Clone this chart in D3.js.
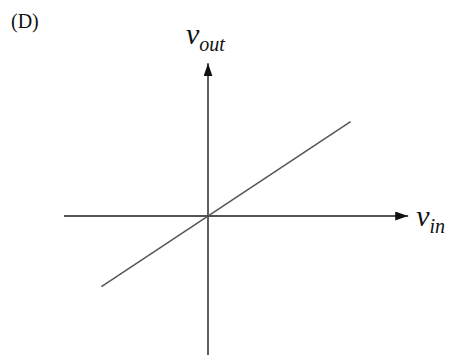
<!DOCTYPE html>
<html>
<head>
<meta charset="utf-8">
<script src="https://cdn.jsdelivr.net/npm/d3@7"></script>
<style>
  html, body { margin: 0; padding: 0; background: #fff; }
  svg { display: block; }
  .lbl { font-family: "Liberation Serif", "Times New Roman", serif; }
</style>
</head>
<body>
<div id="chart"></div>
<script>
(function () {
    "use strict";

    // --- Data ---
    var panelLabel = "(D)";
    var xAxisLabel = ["v", "in"];
    var yAxisLabel = ["v", "out"];
    // axis extents (normalised units, origin at 0)
    var xAxisExtent = [-1.0, 1.39];
    var yAxisExtent = [-0.965, 1.06];
    // transfer line vout = k * vin
    var vin = [-0.74, 0.99];
    var vout = [-0.49, 0.655];

    var width = 451, height = 361;
    var x = d3.scaleLinear().domain([-1, 1]).range([64, 352]);
    var y = d3.scaleLinear().domain([-1, 1]).range([360, 72]);

    var svg = d3.select("#chart").append("svg")
        .attr("width", width)
        .attr("height", height);

    svg.append("defs").append("marker")
        .attr("id", "arrow")
        .attr("viewBox", "0 0 13 9")
        .attr("refX", 13).attr("refY", 4.5)
        .attr("markerWidth", 13).attr("markerHeight", 9)
        .attr("markerUnits", "userSpaceOnUse")
        .attr("orient", "auto")
        .append("path")
        .attr("d", "M0,0 L13,4.5 L0,9 Z")
        .attr("fill", "#111");

    // Axes
    svg.append("line")
        .attr("x1", x(xAxisExtent[0])).attr("y1", y(0))
        .attr("x2", x(xAxisExtent[1])).attr("y2", y(0))
        .attr("stroke", "#1a1a1a").attr("stroke-width", 1.4)
        .attr("marker-end", "url(#arrow)");

    svg.append("line")
        .attr("x1", x(0)).attr("y1", y(yAxisExtent[0]))
        .attr("x2", x(0)).attr("y2", y(yAxisExtent[1]))
        .attr("stroke", "#1a1a1a").attr("stroke-width", 1.4)
        .attr("marker-end", "url(#arrow)");

    // Transfer line
    var pts = vin.map(function (v, i) { return [v, vout[i]]; });
    svg.append("path")
        .datum(pts)
        .attr("fill", "none")
        .attr("stroke", "#555")
        .attr("stroke-width", 1.5)
        .attr("d", d3.line()
            .x(function (d) { return x(d[0]); })
            .y(function (d) { return y(d[1]); }));

    // Labels
    svg.append("text")
        .attr("class", "lbl")
        .attr("x", 11).attr("y", 28)
        .attr("font-size", 20)
        .attr("fill", "#111")
        .text(panelLabel);

    function subLabel(px, py, parts) {
        var t = svg.append("text")
            .attr("class", "lbl")
            .attr("x", px).attr("y", py)
            .attr("font-style", "italic")
            .attr("fill", "#111");
        t.append("tspan").attr("font-size", 30).text(parts[0]);
        t.append("tspan").attr("font-size", 20).attr("dy", 7).text(parts[1]);
    }

    subLabel(x(xAxisExtent[1]) + 8, y(0) + 10, xAxisLabel);
    subLabel(x(0) - 22, 44, yAxisLabel);
})();
</script>
</body>
</html>
